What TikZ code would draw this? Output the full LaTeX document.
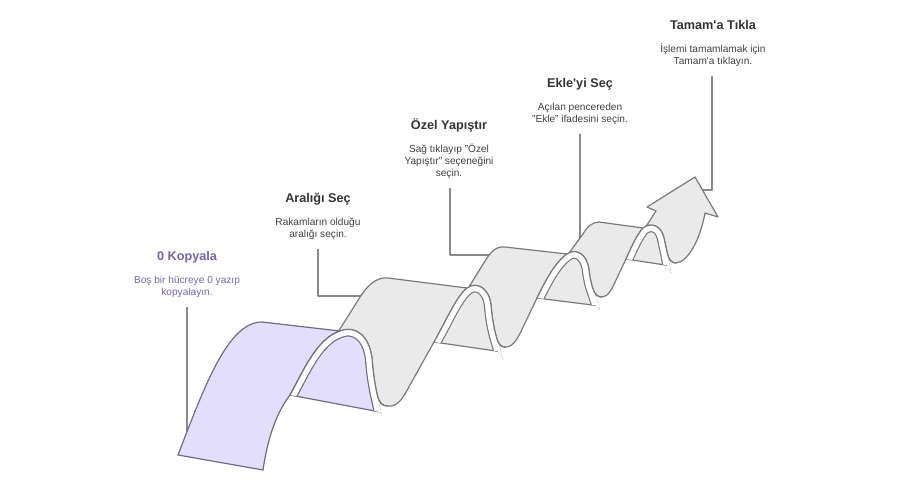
\documentclass[tikz,border=0pt]{standalone}
\usepackage{fontspec}
\setmainfont{Liberation Sans}
\definecolor{pfill}{RGB}{226,222,252}
\definecolor{gfill}{RGB}{234,234,234}
\definecolor{pline}{RGB}{112,108,135}
\definecolor{gline}{RGB}{122,122,122}
\definecolor{ptext}{RGB}{118,100,180}
\definecolor{ttext}{RGB}{52,52,52}
\definecolor{dtext}{RGB}{64,64,64}
\definecolor{leadc}{RGB}{138,138,138}
% near edge of the ribbon, piece by piece
\def\LoA{.. controls (268,436) and (277,412) .. (290,395)}
\def\UpA{.. controls (303,372) and (316,339) .. (340,331)}
\def\ArA{.. controls (356,325) and (369,336) .. (372,358) .. controls (373,372) and (375,385) .. (377,394)}
\def\UA{.. controls (379,403) and (382,406) .. (388,406)}
\def\LoB{.. controls (398,407) and (403,398) .. (410,385) -- (434,342)}
\def\UpB{.. controls (446,321) and (456,297) .. (467,288)}
\def\ArB{.. controls (477,281) and (489,288) .. (491,305) .. controls (492,318) and (494,329) .. (497,339)}
\def\UB{.. controls (499,346) and (502,347) .. (506,347)}
\def\LoC{.. controls (514,347) and (519,336) .. (525,323) -- (537,298)}
\def\UpC{.. controls (544,284) and (554,263) .. (567,254)}
\def\ArC{.. controls (575,248) and (587,253) .. (589,270) .. controls (590,278) and (591,283) .. (593,289)}
\def\UC{.. controls (595,295) and (598,297) .. (602,297)}
\def\LoD{.. controls (608,297) and (612,289) .. (616,280) -- (626,259)}
\def\UpD{.. controls (631,248) and (636,236) .. (643,228)}
\def\ArD{.. controls (651,222) and (661,225) .. (664,238) .. controls (665,243) and (666,247) .. (667,252)}
\def\UD{.. controls (669,260) and (671,263) .. (676,263)}
\def\LoE{.. controls (688,262) and (700,240) .. (705,213)}
\begin{document}
\begin{tikzpicture}[x=0.75pt,y=-0.75pt,line join=round,
  face/.style={line width=0.9pt},
  pface/.style={face,fill=pfill,draw=pline},
  gface/.style={face,fill=gfill,draw=gline},
  edgeline/.style={line width=0.9pt},
  leader/.style={draw=leadc,line width=0.9pt},
  bandout/.style={line width=10.8pt},
  bandin/.style={draw=white,line width=9pt},
  title/.style={font=\fontsize{9.5}{11}\selectfont\bfseries,inner sep=0pt,anchor=base},
  desc/.style={font=\fontsize{7.6}{9}\selectfont,inner sep=0pt,anchor=base}]
\fill[white] (0,0) rectangle (900,500);
\useasboundingbox (0,0) rectangle (900,500);

% texts
\node[title,text=ptext] (t1) at (187,260) {0 Kopyala};
\node[desc,text=ptext] (d1) at (187,283) {\begin{tabular}[t]{@{}c@{}}Boş bir hücreye 0 yazıp\\kopyalayın.\end{tabular}};
\node[title,text=ttext] (t2) at (318,202) {Aralığı Seç};
\node[desc,text=dtext] (d2) at (318,225) {\begin{tabular}[t]{@{}c@{}}Rakamların olduğu\\aralığı seçin.\end{tabular}};
\node[title,text=ttext] (t3) at (449,129) {Özel Yapıştır};
\node[desc,text=dtext] (d3) at (449,152) {\begin{tabular}[t]{@{}c@{}}Sağ tıklayıp "Özel\\Yapıştır" seçeneğini\\seçin.\end{tabular}};
\node[title,text=ttext] (t4) at (580,87) {Ekle\textquotesingle yi Seç};
\node[desc,text=dtext] (d4) at (580,110) {\begin{tabular}[t]{@{}c@{}}Açılan pencereden\\"Ekle" ifadesini seçin.\end{tabular}};
\node[title,text=ttext] (t5) at (713,29) {Tamam\textquotesingle a Tıkla};
\node[desc,text=dtext] (d5) at (713,52) {\begin{tabular}[t]{@{}c@{}}İşlemi tamamlamak için\\Tamam\textquotesingle a tıklayın.\end{tabular}};

% leader lines
\coordinate (l1a) at (187,307); \coordinate (l1b) at (187,445);
\coordinate (l2a) at (318,249); \coordinate (l2b) at (368,296);
\coordinate (l3a) at (450,188); \coordinate (l3b) at (495,255);
\coordinate (l4a) at (580,134); \coordinate (l4b) at (580,244);
\coordinate (l5a) at (712,76);  \coordinate (l5b) at (698,190);
\draw[leader] (l1a) -- (l1b);
\draw[leader] (l2a) |- (l2b);
\draw[leader] (l3a) |- (l3b);
\draw[leader] (l4a) -- (l4b);
\draw[leader] (l5a) |- (l5b);

% front faces, back to front
\path[gface] (643,228) \ArD \UD \LoE -- (718,217) -- (695,177) -- (647,207) -- (656,211) -- (645,228) -- cycle;
\path[gface] (567,254) \ArC \UC \LoD \UpD -- (599,222) .. controls (592,222) and (587,227) .. (583,234) -- (569,253) -- cycle;
\path[gface] (467,288) \ArB \UB \LoC \UpC -- (505,247) .. controls (497,246) and (491,251) .. (485,261) -- (469,287) -- cycle;
\path[gface] (340,331) \ArA \UA \LoB \UpB -- (388,278) .. controls (376,277) and (367,285) .. (357,302) -- (338,332) -- cycle;
\path[pface] (263,470) \LoA \UpA -- (262,322) .. controls (228,322) and (205,385) .. (178,455) -- cycle;

% inner faces with their white band
% segment 4
\path[fill=gfill] (626,259) \UpD \ArD -- (671.3,273.6) -- (667,265.3) -- cycle;
\draw[gline,edgeline] (667,265.3) -- (626,259);
\begin{scope}
  \clip (626,259) \UpD \ArD -- (671.3,273.6) -- (667,265.3) -- cycle;
  \draw[gline,bandout] (602,297) \LoD \UpD \ArD -- (671.3,273.6);
  \draw[bandin] (602,297) \LoD \UpD \ArD -- (671.3,273.6);
\end{scope}
\draw[gline,edgeline] (626,259) \UpD \ArD \UD;
% segment 3
\path[fill=gfill] (537,298) \UpC \ArC -- (600,309.9) -- (596,305.5) -- cycle;
\draw[gline,edgeline] (596,305.5) -- (537,298);
\begin{scope}
  \clip (537,298) \UpC \ArC -- (600,309.9) -- (596,305.5) -- cycle;
  \draw[gline,bandout] (506,347) \LoC \UpC \ArC -- (600,309.9);
  \draw[bandin] (506,347) \LoC \UpC \ArC -- (600,309.9);
\end{scope}
\draw[gline,edgeline] (537,298) \UpC \ArC \UC;
% segment 2
\path[fill=gfill] (434,342) \UpB \ArB -- (503.3,360.1) -- (498,351.3) -- cycle;
\draw[gline,edgeline] (498,351.3) -- (434,342);
\begin{scope}
  \clip (434,342) \UpB \ArB -- (503.3,360.1) -- (498,351.3) -- cycle;
  \draw[gline,bandout] (388,406) \LoB \UpB \ArB -- (503.3,360.1);
  \draw[bandin] (388,406) \LoB \UpB \ArB -- (503.3,360.1);
\end{scope}
\draw[gline,edgeline] (434,342) \UpB \ArB \UB;
% segment 1
\path[fill=pfill] (290,395) \UpA \ArA -- (381.8,415.5) -- (379,411.8) -- cycle;
\draw[pline,edgeline] (379,411.8) -- (290,395);
\begin{scope}
  \clip (290,395) \UpA \ArA -- (381.8,415.5) -- (379,411.8) -- cycle;
  \draw[pline,bandout] (263,470) \LoA \UpA \ArA -- (381.8,415.5);
  \draw[bandin] (263,470) \LoA \UpA \ArA -- (381.8,415.5);
\end{scope}
\draw[pline,edgeline] (290,395) \UpA;
\draw[gline,edgeline] (340,331) \ArA \UA;
\end{tikzpicture}
\end{document}
